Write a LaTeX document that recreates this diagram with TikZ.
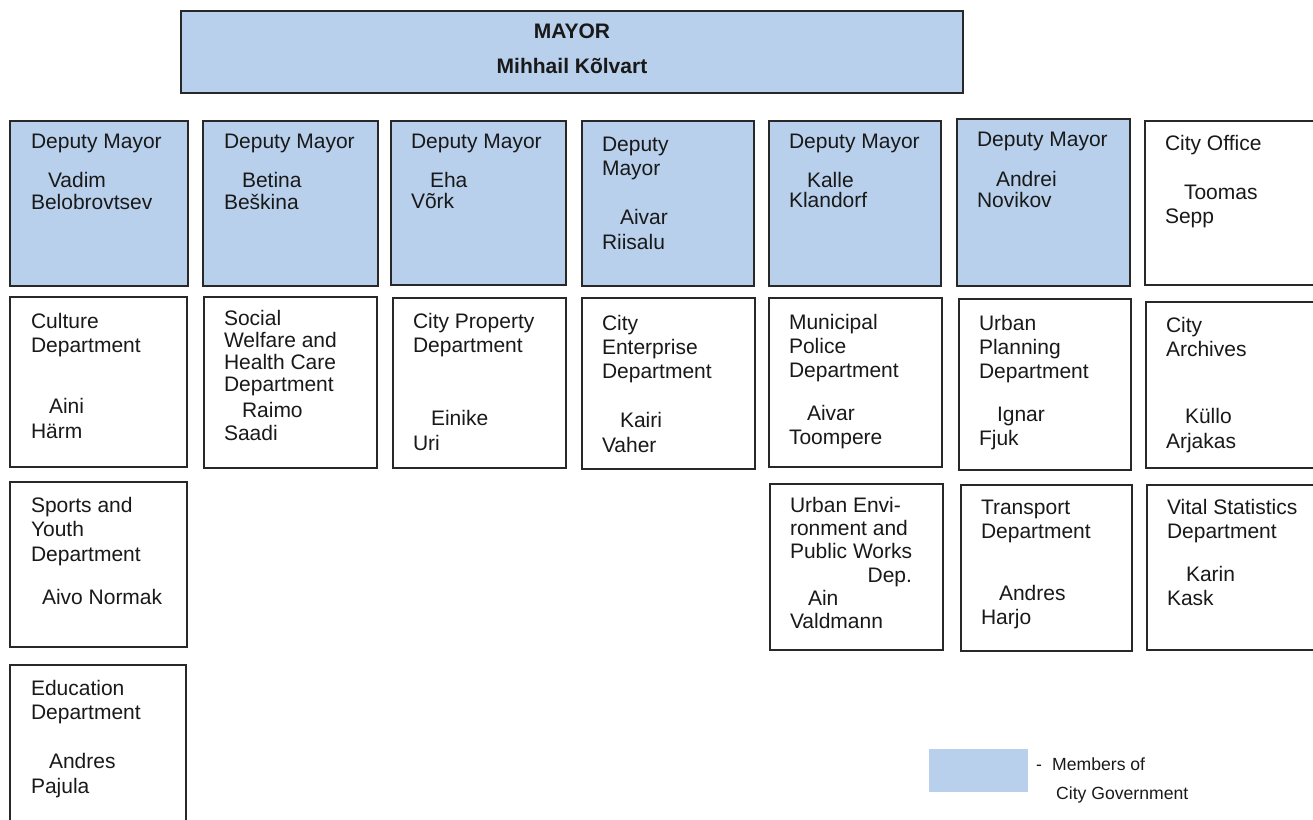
\documentclass[tikz,border=0pt]{standalone}
\usepackage{fontspec}
\setmainfont{Liberation Sans}
\definecolor{govblue}{RGB}{184,208,236}
\definecolor{linec}{RGB}{40,40,40}
\definecolor{txtc}{RGB}{25,25,25}
\newcount\tlnum
\newcommand\obox[6]{\node[#6, minimum width={#4pt-#2pt}, minimum height={#5pt-#3pt}, anchor=north west] (#1) at (#2,#3) {};}
\newcommand\tl[3]{\global\advance\tlnum by 1\relax\node[txt, anchor=base west] (tl\the\tlnum) at (#1,#2+7) {#3};}
\newcommand\tlr[3]{\global\advance\tlnum by 1\relax\node[txt, anchor=base east] (tl\the\tlnum) at (#1,#2+7) {#3};}
\begin{document}
\begin{tikzpicture}[x=1pt,y=-1pt,
  box/.style={draw=linec, line width=1.9pt, rectangle, inner sep=0pt, outer sep=0pt},
  gov/.style={box, fill=govblue},
  plain/.style={box, fill=white},
  txt/.style={inner sep=0pt, outer sep=0pt, text=txtc, font=\fontsize{21}{24}\selectfont},
  btxt/.style={inner sep=0pt, text=txtc, font=\fontsize{21}{24}\selectfont\bfseries},
  ltxt/.style={inner sep=0pt, text=txtc, font=\fontsize{17.6}{20}\selectfont}]
\useasboundingbox (0,0) rectangle (1313,819);
\clip (0,0) rectangle (1313,819);
% Mayor
\obox{mayor}{181}{11}{963}{93}{gov}
\node[btxt, anchor=base] (mtitle) at (572,38) {MAYOR};
\node[btxt, anchor=base] (mname) at (572,73) {Mihhail Kõlvart};
% Row 1
\obox{d1}{10}{121}{188}{286}{gov}
\obox{d2}{203}{121}{378}{286}{gov}
\obox{d3}{391}{121}{566}{285}{gov}
\obox{d4}{582}{121}{754}{286}{gov}
\obox{d5}{769}{121}{941}{286}{gov}
\obox{d6}{957}{119}{1130}{286}{gov}
\obox{co}{1145}{121}{1320}{285}{plain}
\tl{31}{141}{Deputy Mayor}\tl{48}{180}{Vadim}\tl{31}{202}{Belobrovtsev}
\tl{224}{141}{Deputy Mayor}\tl{242}{180}{Betina}\tl{224}{202}{Beškina}
\tl{411}{141}{Deputy Mayor}\tl{430}{180}{Eha}\tl{411}{201}{Võrk}
\tl{602}{144}{Deputy}\tl{602}{168}{Mayor}\tl{620}{217}{Aivar}\tl{602}{242}{Riisalu}
\tl{789}{141}{Deputy Mayor}\tl{807}{180}{Kalle}\tl{789}{200}{Klandorf}
\tl{977}{139}{Deputy Mayor}\tl{996}{179}{Andrei}\tl{977}{200}{Novikov}
\tl{1165}{143}{City Office}\tl{1184}{192}{Toomas}\tl{1165}{216}{Sepp}
% Row 2
\obox{cul}{10}{297}{187}{467}{plain}
\obox{soc}{204}{297}{377}{468}{plain}
\obox{prop}{393}{298}{566}{468}{plain}
\obox{ent}{582}{298}{755}{469}{plain}
\obox{pol}{769}{298}{942}{467}{plain}
\obox{plan}{959}{299}{1131}{470}{plain}
\obox{arch}{1146}{302}{1320}{468}{plain}
\tl{31}{321}{Culture}\tl{31}{345}{Department}\tl{49}{406}{Aini}\tl{31}{431}{Härm}
\tl{224}{318}{Social}\tl{224}{340}{Welfare and}\tl{224}{362}{Health Care}\tl{224}{384}{Department}\tl{242}{410}{Raimo}\tl{224}{433}{Saadi}
\tl{413}{321}{City Property}\tl{413}{345}{Department}\tl{431}{418}{Einike}\tl{413}{443}{Uri}
\tl{602}{323}{City}\tl{602}{347}{Enterprise}\tl{602}{371}{Department}\tl{620}{420}{Kairi}\tl{602}{445}{Vaher}
\tl{789}{322}{Municipal}\tl{789}{346}{Police}\tl{789}{370}{Department}\tl{807}{413}{Aivar}\tl{789}{437}{Toompere}
\tl{979}{323}{Urban}\tl{979}{347}{Planning}\tl{979}{371}{Department}\tl{997}{414}{Ignar}\tl{979}{438}{Fjuk}
\tl{1166}{325}{City}\tl{1166}{349}{Archives}\tl{1185}{416}{Küllo}\tl{1166}{441}{Arjakas}
% Row 3
\obox{spo}{10}{482}{187}{647}{plain}
\obox{env}{770}{484}{943}{650}{plain}
\obox{tra}{961}{485}{1132}{651}{plain}
\obox{vit}{1147}{485}{1320}{650}{plain}
\tl{31}{505}{Sports and}\tl{31}{529}{Youth}\tl{31}{554}{Department}\tl{42}{597}{Aivo Normak}
\tl{790}{505}{Urban Envi-}\tl{790}{528}{ronment and}\tl{790}{551}{Public Works}\tlr{912}{575}{Dep.}\tl{808}{598}{Ain}\tl{790}{621}{Valdmann}
\tl{981}{507}{Transport}\tl{981}{531}{Department}\tl{999}{593}{Andres}\tl{981}{617}{Harjo}
\tl{1167}{507}{Vital Statistics}\tl{1167}{531}{Department}\tl{1186}{574}{Karin}\tl{1167}{598}{Kask}
% Row 4
\obox{edu}{10}{665}{186}{830}{plain}
\tl{31}{688}{Education}\tl{31}{712}{Department}\tl{49}{761}{Andres}\tl{31}{786}{Pajula}
% Legend
\node[fill=govblue, inner sep=0pt, minimum width=99pt, minimum height=43pt, anchor=north west] (leg) at (929,749) {};
\node[ltxt, anchor=base west] (legd) at (1036,770) {-};
\node[ltxt, anchor=base west] (leg1) at (1052,770) {Members of};
\node[ltxt, anchor=base west] (leg2) at (1056,799) {City Government};
\end{tikzpicture}
\end{document}
